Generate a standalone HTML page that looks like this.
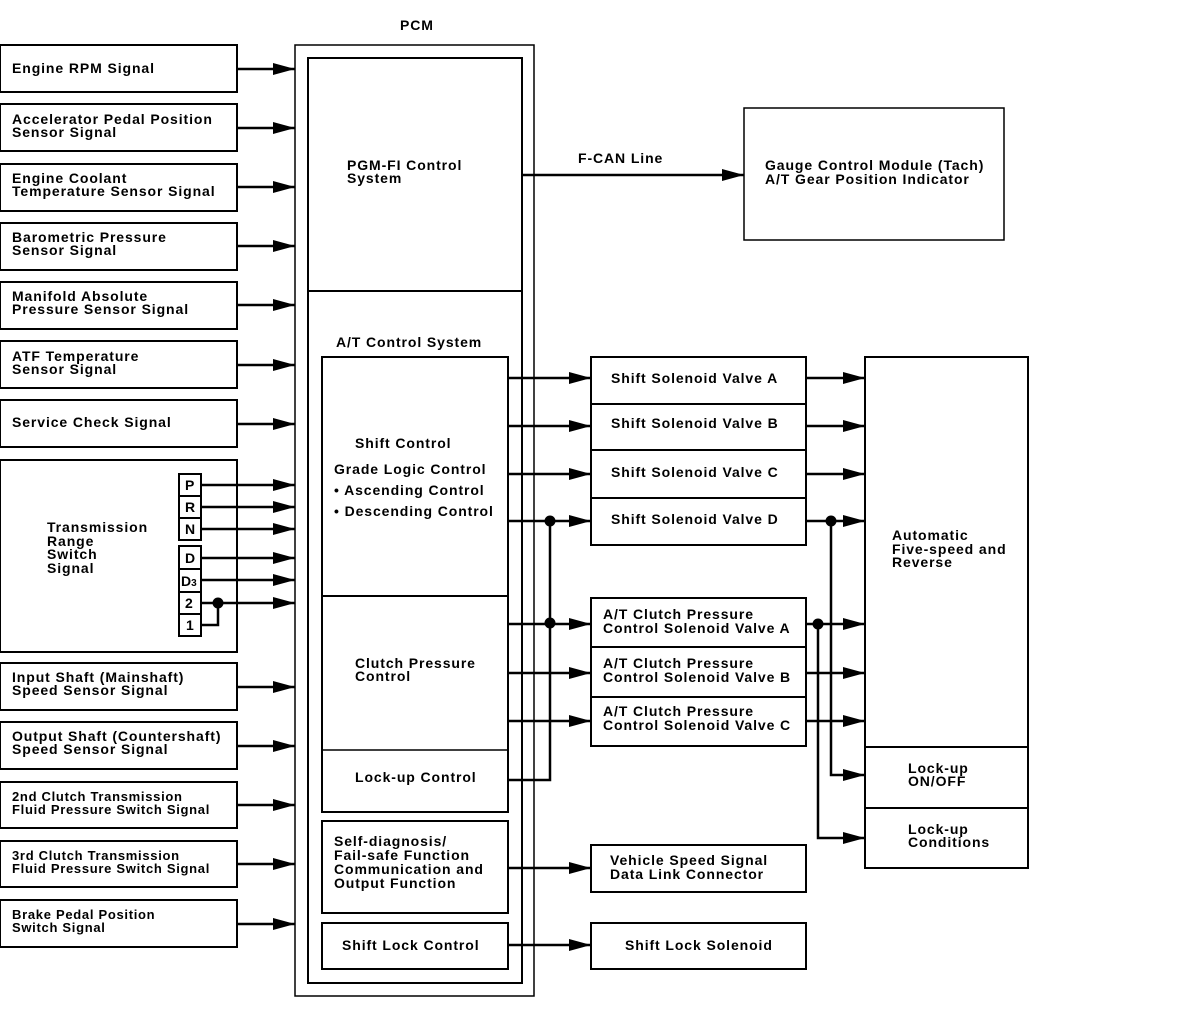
<!DOCTYPE html>
<html><head><meta charset="utf-8"><style>
html,body{margin:0;padding:0;background:#fff}
svg{display:block}
text{font-family:"Liberation Sans",Arial,sans-serif;font-weight:bold;font-size:14px;fill:#000;letter-spacing:0.9px}
.s{font-size:13px;letter-spacing:0.7px}
</style></head><body>
<svg width="1184" height="1024" viewBox="0 0 1184 1024" xmlns="http://www.w3.org/2000/svg">
<defs>
<marker id="a" markerWidth="22" markerHeight="12" refX="22" refY="6" orient="auto" markerUnits="userSpaceOnUse">
<path d="M0,0 L22,6 L0,12 Z" fill="#000"/>
</marker>
</defs>
<g fill="none" stroke="#000" stroke-width="2">
<rect x="0" y="45" width="237" height="47"/>
<rect x="0" y="104" width="237" height="47"/>
<rect x="0" y="164" width="237" height="47"/>
<rect x="0" y="223" width="237" height="47"/>
<rect x="0" y="282" width="237" height="47"/>
<rect x="0" y="341" width="237" height="47"/>
<rect x="0" y="400" width="237" height="47"/>
<rect x="0" y="460" width="237" height="192"/>
<rect x="0" y="663" width="237" height="47"/>
<rect x="0" y="722" width="237" height="47"/>
<rect x="0" y="782" width="237" height="46"/>
<rect x="0" y="841" width="237" height="46"/>
<rect x="0" y="900" width="237" height="47"/>
<rect x="179" y="474" width="22" height="66"/>
<line x1="179" y1="496" x2="201" y2="496"/>
<line x1="179" y1="518" x2="201" y2="518"/>
<rect x="179" y="546" width="22" height="90"/>
<line x1="179" y1="569" x2="201" y2="569"/>
<line x1="179" y1="592" x2="201" y2="592"/>
<line x1="179" y1="614" x2="201" y2="614"/>
<rect x="295" y="45" width="239" height="951" stroke-width="1.5"/>
<rect x="308" y="58" width="214" height="925"/>
<line x1="308" y1="291" x2="522" y2="291"/>
<rect x="322" y="357" width="186" height="455"/>
<line x1="322" y1="596" x2="508" y2="596"/>
<line x1="322" y1="750" x2="508" y2="750" stroke-width="1.5"/>
<rect x="322" y="821" width="186" height="92"/>
<rect x="322" y="923" width="186" height="46"/>
<rect x="744" y="108" width="260" height="132" stroke-width="1.5"/>
<rect x="591" y="357" width="215" height="188"/>
<line x1="591" y1="404" x2="806" y2="404"/>
<line x1="591" y1="450" x2="806" y2="450"/>
<line x1="591" y1="498" x2="806" y2="498"/>
<rect x="591" y="598" width="215" height="148"/>
<line x1="591" y1="647" x2="806" y2="647"/>
<line x1="591" y1="697" x2="806" y2="697"/>
<rect x="591" y="845" width="215" height="47"/>
<rect x="591" y="923" width="215" height="46"/>
<rect x="865" y="357" width="163" height="511"/>
<line x1="865" y1="747" x2="1028" y2="747"/>
<line x1="865" y1="808" x2="1028" y2="808"/>
</g>
<g stroke="#000" stroke-width="2.5" fill="none" marker-end="url(#a)">
<line x1="237" y1="69" x2="295" y2="69"/>
<line x1="237" y1="128" x2="295" y2="128"/>
<line x1="237" y1="187" x2="295" y2="187"/>
<line x1="237" y1="246" x2="295" y2="246"/>
<line x1="237" y1="305" x2="295" y2="305"/>
<line x1="237" y1="365" x2="295" y2="365"/>
<line x1="237" y1="424" x2="295" y2="424"/>
<line x1="201" y1="485" x2="295" y2="485"/>
<line x1="201" y1="507" x2="295" y2="507"/>
<line x1="201" y1="529" x2="295" y2="529"/>
<line x1="201" y1="558" x2="295" y2="558"/>
<line x1="201" y1="580" x2="295" y2="580"/>
<line x1="201" y1="603" x2="295" y2="603"/>
<line x1="237" y1="687" x2="295" y2="687"/>
<line x1="237" y1="746" x2="295" y2="746"/>
<line x1="237" y1="805" x2="295" y2="805"/>
<line x1="237" y1="864" x2="295" y2="864"/>
<line x1="237" y1="924" x2="295" y2="924"/>
<line x1="522" y1="175" x2="744" y2="175"/>
<line x1="508" y1="378" x2="591" y2="378"/>
<line x1="508" y1="426" x2="591" y2="426"/>
<line x1="508" y1="474" x2="591" y2="474"/>
<line x1="508" y1="521" x2="591" y2="521"/>
<line x1="508" y1="624" x2="591" y2="624"/>
<line x1="508" y1="673" x2="591" y2="673"/>
<line x1="508" y1="721" x2="591" y2="721"/>
<line x1="508" y1="868" x2="591" y2="868"/>
<line x1="508" y1="945" x2="591" y2="945"/>
<line x1="806" y1="378" x2="865" y2="378"/>
<line x1="806" y1="426" x2="865" y2="426"/>
<line x1="806" y1="474" x2="865" y2="474"/>
<line x1="806" y1="521" x2="865" y2="521"/>
<line x1="806" y1="624" x2="865" y2="624"/>
<line x1="806" y1="673" x2="865" y2="673"/>
<line x1="806" y1="721" x2="865" y2="721"/>
<polyline points="831,521 831,775 865,775"/>
<polyline points="818,624 818,838 865,838"/>
</g>
<g stroke="#000" stroke-width="2.5" fill="none">
<polyline points="508,780 550,780 550,521"/>
<polyline points="218,603 218,625 201,625"/>
</g>
<g fill="#000">
<circle cx="218" cy="603" r="5.5"/>
<circle cx="550" cy="521" r="5.5"/>
<circle cx="550" cy="623" r="5.5"/>
<circle cx="831" cy="521" r="5.5"/>
<circle cx="818" cy="624" r="5.5"/>
</g>
<text x="12" y="73">Engine RPM Signal</text>
<text x="12" y="124">Accelerator Pedal Position</text><text x="12" y="137">Sensor Signal</text>
<text x="12" y="183">Engine Coolant</text><text x="12" y="196">Temperature Sensor Signal</text>
<text x="12" y="242">Barometric Pressure</text><text x="12" y="255">Sensor Signal</text>
<text x="12" y="301">Manifold Absolute</text><text x="12" y="314">Pressure Sensor Signal</text>
<text x="12" y="361">ATF Temperature</text><text x="12" y="374">Sensor Signal</text>
<text x="12" y="427">Service Check Signal</text>
<text x="47" y="532">Transmission</text><text x="47" y="546">Range</text><text x="47" y="559">Switch</text><text x="47" y="573">Signal</text>
<text x="185" y="490">P</text><text x="185" y="512">R</text><text x="185" y="534">N</text>
<text x="185" y="563">D</text><text x="181" y="586" style="letter-spacing:0">D<tspan font-size="10">3</tspan></text>
<text x="185" y="608">2</text><text x="186" y="630">1</text>
<text x="12" y="682">Input Shaft (Mainshaft)</text><text x="12" y="695">Speed Sensor Signal</text>
<text x="12" y="741">Output Shaft (Countershaft)</text><text x="12" y="754">Speed Sensor Signal</text>
<text class="s" x="12" y="801">2nd Clutch Transmission</text><text class="s" x="12" y="814">Fluid Pressure Switch Signal</text>
<text class="s" x="12" y="860">3rd Clutch Transmission</text><text class="s" x="12" y="873">Fluid Pressure Switch Signal</text>
<text class="s" x="12" y="919">Brake Pedal Position</text><text class="s" x="12" y="932">Switch Signal</text>
<text x="400" y="30">PCM</text>
<text x="347" y="170">PGM-FI Control</text><text x="347" y="183">System</text>
<text x="336" y="347">A/T Control System</text>
<text x="355" y="448">Shift Control</text>
<text x="334" y="474">Grade Logic Control</text>
<text x="334" y="495">• Ascending Control</text>
<text x="334" y="516">• Descending Control</text>
<text x="355" y="668">Clutch Pressure</text><text x="355" y="681">Control</text>
<text x="355" y="782">Lock-up Control</text>
<text x="334" y="846">Self-diagnosis/</text><text x="334" y="860">Fail-safe Function</text><text x="334" y="874">Communication and</text><text x="334" y="888">Output Function</text>
<text x="342" y="950">Shift Lock Control</text>
<text x="578" y="163">F-CAN Line</text>
<text x="765" y="170">Gauge Control Module (Tach)</text><text x="765" y="184">A/T Gear Position Indicator</text>
<text x="611" y="383">Shift Solenoid Valve A</text>
<text x="611" y="428">Shift Solenoid Valve B</text>
<text x="611" y="477">Shift Solenoid Valve C</text>
<text x="611" y="524">Shift Solenoid Valve D</text>
<text x="603" y="619">A/T Clutch Pressure</text><text x="603" y="633">Control Solenoid Valve A</text>
<text x="603" y="668">A/T Clutch Pressure</text><text x="603" y="682">Control Solenoid Valve B</text>
<text x="603" y="716">A/T Clutch Pressure</text><text x="603" y="730">Control Solenoid Valve C</text>
<text x="610" y="865">Vehicle Speed Signal</text><text x="610" y="879">Data Link Connector</text>
<text x="625" y="950">Shift Lock Solenoid</text>
<text x="892" y="540">Automatic</text><text x="892" y="554">Five-speed and</text><text x="892" y="567">Reverse</text>
<text x="908" y="773">Lock-up</text><text x="908" y="786">ON/OFF</text>
<text x="908" y="834">Lock-up</text><text x="908" y="847">Conditions</text>
</svg>
</body></html>
